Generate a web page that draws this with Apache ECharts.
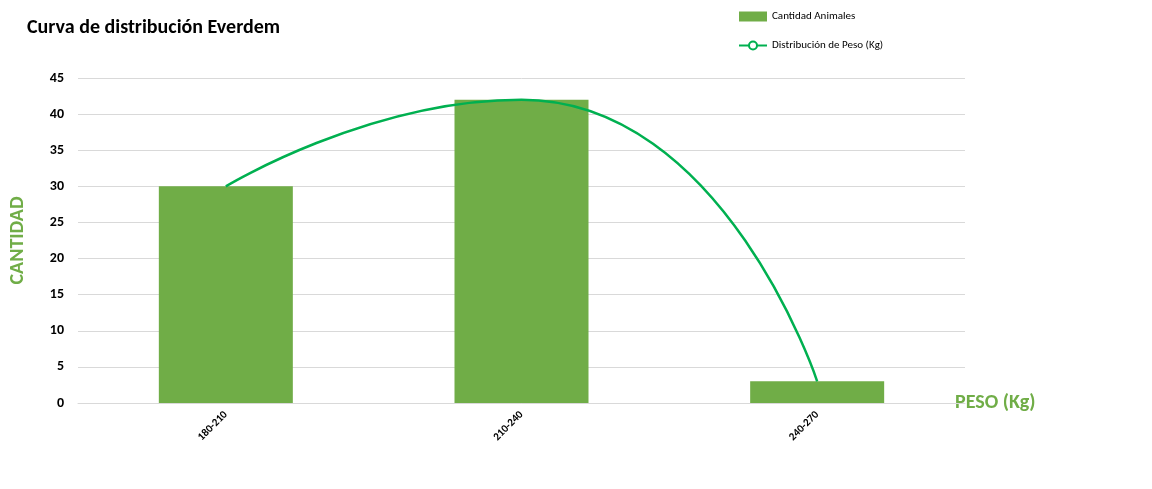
<!DOCTYPE html>
<html><head><meta charset="utf-8">
<script src="https://cdn.jsdelivr.net/npm/echarts@6/dist/echarts.min.js"></script>
<style>html,body{margin:0;padding:0;background:#fff}#c{width:1152px;height:489px}</style>
</head><body><div id="c"></div>
<script>
const categories = ['180-210','210-240','240-270'];
const cantidad = [30, 42, 3];
const distribucion = [30, 42, 3];
const yTicks = [0,5,10,15,20,25,30,35,40,45];
const chart = echarts.init(document.getElementById('c'));
const font = 'Calibri, Carlito, "Liberation Sans", Arial, sans-serif';
chart.setOption({
  animation:false,
  textStyle:{fontFamily:font},
  title:{text:'Curva de distribución Everdem',left:22,top:13,textStyle:{fontSize:20,fontWeight:'bold',color:'#000',fontFamily:font}},
  legend:{orient:'vertical',left:733,top:6,itemGap:18,itemWidth:28,itemHeight:10,
    textStyle:{fontSize:11,color:'#000',fontFamily:font},
    data:[{name:'Cantidad Animales',icon:'rect'},{name:'Distribución de Peso (Kg)'}]},
  grid:{left:78,right:187,top:78,bottom:86},
  xAxis:{type:'category',data:categories,
    axisLine:{lineStyle:{color:'#d9d9d9'}},axisTick:{show:false},
    axisLabel:{rotate:45,fontSize:11,fontWeight:'bold',color:'#000',margin:10},
    name:'PESO (Kg)',nameLocation:'end',nameGap:0,
    nameTextStyle:{fontSize:20,fontWeight:'bold',color:'#70AD47',padding:[88,0,0,-10],align:'left'}},
  yAxis:{type:'value',min:0,max:45,interval:5,
    splitLine:{lineStyle:{color:'#d9d9d9'}},axisLine:{show:false},axisTick:{show:false},
    axisLabel:{fontSize:14,fontWeight:'bold',color:'#000',margin:14},
    name:'CANTIDAD',nameLocation:'middle',nameGap:50,
    nameTextStyle:{fontSize:20,fontWeight:'bold',color:'#70AD47'}},
  series:[
    {name:'Cantidad Animales',type:'bar',data:cantidad,barWidth:134,itemStyle:{color:'#70AD47'}},
    {name:'Distribución de Peso (Kg)',type:'line',data:distribucion,smooth:0.6,showSymbol:false,
     lineStyle:{color:'#00B050',width:2.5},itemStyle:{color:'#00B050'}}
  ]
});
</script></body></html>
